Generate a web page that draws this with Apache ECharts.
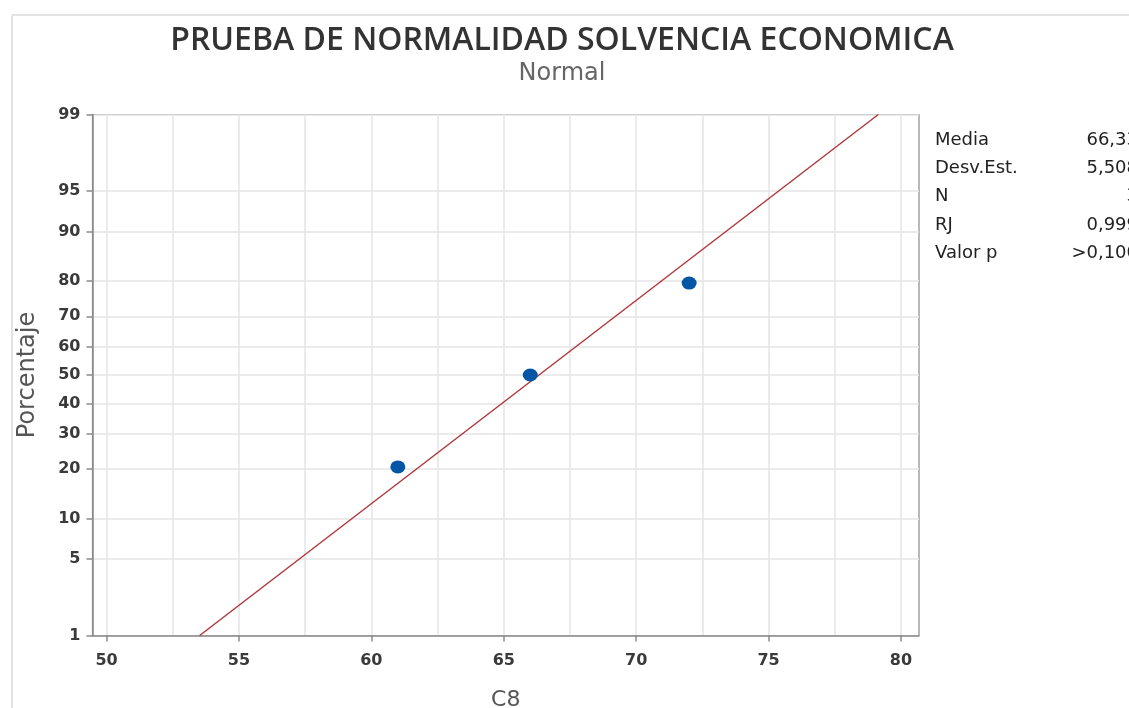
<!DOCTYPE html>
<html><head><meta charset="utf-8">
<script src="https://cdn.jsdelivr.net/npm/echarts@6/dist/echarts.min.js"></script>
<style>html,body{margin:0;padding:0;background:#fff}#c{width:1129px;height:708px}</style>
</head><body><div id="c"></div>
<script>
// ---- data ----
const xValues = [61, 66, 72];
const pctValues = [20.59, 50, 79.41];
const yTickPcts = [1, 5, 10, 20, 30, 40, 50, 60, 70, 80, 90, 95, 99];
const xTickLabels = [50, 55, 60, 65, 70, 75, 80];
const xGridValues = [50, 52.5, 55, 57.5, 60, 62.5, 65, 67.5, 70, 72.5, 75, 77.5, 80];
const fitMean = [66.33];
const fitSd = [5.508];
const statNames = ['Media', 'Desv.Est.', 'N', 'RJ', 'Valor p'];
const statValues = ['66,33', '5,508', '3', '0,999', '>0,100'];

// normal quantile (Acklam) for the probability scale
function probit(p) {
  const a=[-39.69683028665376,220.9460984245205,-275.9285104469687,138.3577518672690,-30.66479806614716,2.506628277459239];
  const b=[-54.47609879822406,161.5858368580409,-155.6989798598866,66.80131188771972,-13.28068155288572];
  const c=[-0.007784894002430293,-0.3223964580411365,-2.400758277161838,-2.549732539343734,4.374664141464968,2.938163982698783];
  const d=[0.007784695709041462,0.3224671290700398,2.445134137142996,3.754408661907416];
  const pl=0.02425;
  let q,r;
  if(p<pl){q=Math.sqrt(-2*Math.log(p));return (((((c[0]*q+c[1])*q+c[2])*q+c[3])*q+c[4])*q+c[5])/((((d[0]*q+d[1])*q+d[2])*q+d[3])*q+1);}
  if(p<=1-pl){q=p-0.5;r=q*q;return (((((a[0]*r+a[1])*r+a[2])*r+a[3])*r+a[4])*r+a[5])*q/(((((b[0]*r+b[1])*r+b[2])*r+b[3])*r+b[4])*r+1);}
  q=Math.sqrt(-2*Math.log(1-p));return -(((((c[0]*q+c[1])*q+c[2])*q+c[3])*q+c[4])*q+c[5])/((((d[0]*q+d[1])*q+d[2])*q+d[3])*q+1);
}
const yTickZ = yTickPcts.map(p => probit(p/100));
const zMin = probit(0.01), zMax = probit(0.99);

const points = xValues.map((x,i)=>[x, probit(pctValues[i]/100)]);
const fitLine = [zMin, zMax].map(z => [fitMean[0] + z*fitSd[0], z]);

const FONT = '"DejaVu Sans", "Open Sans", sans-serif';
const TFONT = '"Open Sans", "DejaVu Sans", sans-serif';
const chart = echarts.init(document.getElementById('c'), null, {renderer:'canvas'});

const statGraphics = [];
statNames.forEach((n,i)=>{
  statGraphics.push({type:'text', x:935, y:140+i*28.3, style:{text:n, font:'18px '+FONT, fill:'#222', textVerticalAlign:'middle'}});
  statGraphics.push({type:'text', x:1138, y:140+i*28.3, style:{text:statValues[i], font:'18px '+FONT, fill:'#222', textAlign:'right', textVerticalAlign:'middle'}});
});

chart.setOption({
  animation:false,
  backgroundColor:'#fff',
  title:[
    {text:'PRUEBA DE NORMALIDAD SOLVENCIA ECONOMICA', left:557, top:20, textAlign:'center',
     textStyle:{fontFamily:TFONT, fontSize:32, fontWeight:600, color:'#333'}},
    {text:'Normal', left:557, top:57, textAlign:'center',
     textStyle:{fontFamily:FONT, fontSize:24, fontWeight:'normal', color:'#666'}}
  ],
  graphic:[
    {type:'line', shape:{x1:12,y1:15,x2:1129,y2:15}, style:{stroke:'#e3e3e3', lineWidth:2}},
    {type:'line', shape:{x1:12,y1:15,x2:12,y2:708}, style:{stroke:'#e3e3e3', lineWidth:2}},
    ...statGraphics
  ],
  grid:{left:92.5, top:114.5, right:210, bottom:72.5, show:true, borderColor:'#8a8a8a', borderWidth:1.2,
        containLabel:false, outerBoundsMode:'none'},
  xAxis:[
    {type:'value', min:49.47, max:80.68, position:'bottom',
     axisLine:{show:true, onZero:false, lineStyle:{color:'#8a8a8a', width:1.5}},
     axisTick:{show:false, customValues:xGridValues},
     axisLabel:{show:false},
     splitLine:{show:true, lineStyle:{color:'#e4e4e4', width:1.5}}},
    {type:'value', min:49.47, max:80.68, position:'bottom',
     name:'C8', nameLocation:'middle', nameGap:54,
     nameTextStyle:{fontFamily:FONT, fontSize:22, color:'#555'},
     axisLine:{show:false, onZero:false},
     axisTick:{show:true, inside:false, length:6, customValues:xTickLabels, lineStyle:{color:'#8a8a8a', width:1.5}},
     axisLabel:{show:true, customValues:xTickLabels, margin:17, fontFamily:FONT, fontSize:16, fontWeight:'bold', color:'#3a3a3a'},
     splitLine:{show:false}}
  ],
  yAxis:{type:'value', min:zMin, max:zMax,
     name:'Porcentaje', nameLocation:'middle', nameGap:53, nameRotate:90,
     nameTextStyle:{fontFamily:FONT, fontSize:24, color:'#555'},
     axisLine:{show:true, onZero:false, lineStyle:{color:'#8a8a8a', width:1.5}},
     axisTick:{show:true, inside:false, length:6, customValues:yTickZ, lineStyle:{color:'#8a8a8a', width:1.5}},
     axisLabel:{show:true, customValues:yTickZ, margin:12, fontFamily:FONT, fontSize:16, fontWeight:'bold', color:'#3a3a3a',
       formatter:(v)=>{ let best=0,bd=1e9; yTickZ.forEach((z,i)=>{const d=Math.abs(z-v); if(d<bd){bd=d;best=i;}}); return String(yTickPcts[best]); }},
     splitLine:{show:true, lineStyle:{color:'#e4e4e4', width:1.5}}},
  series:[
    {type:'line', xAxisIndex:0, data:fitLine, showSymbol:false, symbol:'none',
     lineStyle:{color:'#b0393c', width:1.5}, silent:true, z:2},
    {type:'scatter', xAxisIndex:0, data:points, symbol:'circle', symbolSize:[15,13],
     itemStyle:{color:'#0355a6', opacity:1}, z:3}
  ]
});
</script></body></html>
